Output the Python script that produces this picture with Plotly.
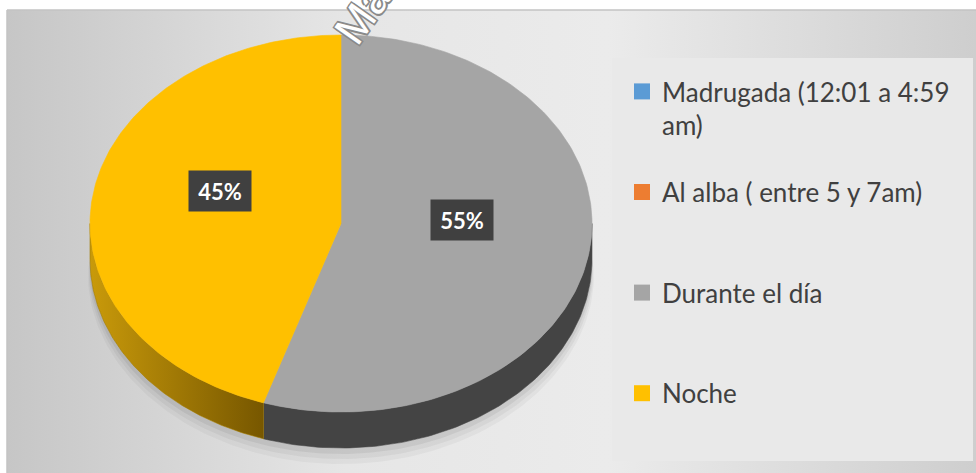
import numpy as np
import plotly.graph_objects as go

# ---------------- data ----------------
categories = ["Madrugada (12:01 a 4:59 am)", "Al alba ( entre 5 y 7am)", "Durante el día", "Noche"]
legend_labels = ["Madrugada (12:01 a 4:59<br>am)", "Al alba ( entre 5 y 7am)<br>\u00a0",
                 "Durante el día<br>\u00a0", "Noche<br>\u00a0"]
values = [0, 0, 55, 45]
top_colors = ["#5B9BD5", "#ED7D31", "#A5A5A5", "#FFC000"]
side_colors = ["#3B6F9E", "#B05A20", "#444444", "#A07800"]

# ---------------- geometry (pixel-like axes) ----------------
W, H = 976, 473
CX, CY, RX, RY, DEPTH = 341.0, 223.5, 251.0, 188.5, 36.0
LABEL_R, LABEL_LIFT = 0.49, 18.0


def pt(theta_deg, dy=0.0, grow=0.0):
    t = np.radians(theta_deg)
    return CX + (RX + grow) * np.sin(t), CY - (RY + grow) * np.cos(t) + dy


fig = go.Figure()

# background panel with gradient
fig.add_trace(go.Scatter(
    x=[7, W + 1, W + 1, 7, 7], y=[10, 10, H + 1, H + 1, 10], mode="lines",
    fill="toself", line=dict(color="#c4c4c4", width=1.5),
    fillgradient=dict(type="horizontal", start=7, stop=W,
                      colorscale=[[0, "#c6c6c6"], [0.35, "#e6e6e6"], [0.62, "#ebebeb"], [1, "#cecece"]]),
    hoverinfo="skip", showlegend=False))

total = float(sum(values))
fracs = [v / total for v in values]
starts = np.concatenate([[0], np.cumsum(fracs)[:-1]]) * 360
ends = np.cumsum(fracs) * 360

# soft shadow under the pie (band below the front edge)
th_s = np.linspace(90, 270, 160)
taper = np.clip(-np.cos(np.radians(th_s)), 0, None) ** 0.7
for g, alpha in [(16, 0.035), (11, 0.045), (6, 0.06)]:
    xo, yo = pt(th_s, DEPTH, g * taper)
    xo = xo + 0.0
    yo = yo + 0.0
    xi, yi = pt(th_s[::-1], DEPTH)
    fig.add_trace(go.Scatter(x=np.concatenate([xo, xi, xo[:1]]), y=np.concatenate([yo, yi, yo[:1]]),
                             mode="lines", fill="toself", fillcolor=f"rgba(0,0,0,{alpha})",
                             line=dict(width=0), hoverinfo="skip", showlegend=False))

# side walls (front half: 90..270 deg clockwise from top)
for i, (a0, a1) in enumerate(zip(starts, ends)):
    if values[i] <= 0:
        continue
    s0, s1 = max(a0, 90.0), min(a1, 270.0)
    if s1 <= s0:
        continue
    th = np.linspace(s0, s1, 120)
    xs_top, ys_top = pt(th)
    xs_bot, ys_bot = pt(th[::-1], DEPTH)
    xs = np.concatenate([xs_top, xs_bot, xs_top[:1]])
    ys = np.concatenate([ys_top, ys_bot, ys_top[:1]])
    kw = {}
    if categories[i] == "Noche":
        kw["fillgradient"] = dict(type="horizontal", start=float(xs.min()), stop=float(xs.max()),
                                  colorscale=[[0, "#c99a0a"], [1, "#775700"]])
    else:
        kw["fillcolor"] = side_colors[i]
    fig.add_trace(go.Scatter(x=xs, y=ys, mode="lines", fill="toself",
                             line=dict(width=0.6, color=side_colors[i]),
                             hoverinfo="skip", showlegend=False, **kw))

# top faces
for i, (a0, a1) in enumerate(zip(starts, ends)):
    if values[i] <= 0:
        continue
    th = np.linspace(a0, a1, 200)
    xa, ya = pt(th)
    xs = np.concatenate([[CX], xa, [CX]])
    ys = np.concatenate([[CY], ya, [CY]])
    fig.add_trace(go.Scatter(x=xs, y=ys, mode="lines", fill="toself",
                             fillcolor=top_colors[i], line=dict(width=0.6, color=top_colors[i]),
                             name=categories[i], hoverinfo="name", showlegend=False))

# legend-only entries
for i, lab in enumerate(legend_labels):
    fig.add_trace(go.Scatter(x=[None], y=[None], mode="markers", name=lab,
                             legendgroup=f"g{i}",
                             marker=dict(symbol="square", size=16, color=top_colors[i])))

# data labels
annotations = []
for i, (a0, a1) in enumerate(zip(starts, ends)):
    if values[i] <= 0:
        continue
    mid = (a0 + a1) / 2
    t = np.radians(mid)
    lx = CX + RX * LABEL_R * np.sin(t)
    ly = CY - RY * LABEL_R * np.cos(t) - LABEL_LIFT
    annotations.append(dict(x=lx, y=ly, xref="x", yref="y", text=f"<b>{round(fracs[i] * 100)}%</b>",
                            showarrow=False, bgcolor="#404040", borderpad=7, width=48, height=26,
                            font=dict(family="Lato", size=22, color="white")))

# watermark
annotations.append(dict(x=362, y=13, xref="x", yref="y", text="Ma", showarrow=False, textangle=-55,
                        font=dict(family="Liberation Sans", size=44, color="white",
                                  shadow="1.5px 1.5px 0 #8a8a8a, -1.5px -1.5px 0 #8a8a8a, 1.5px -1.5px 0 #8a8a8a, -1.5px 1.5px 0 #8a8a8a")))

fig.update_layout(
    width=W, height=H, margin=dict(l=0, r=0, t=0, b=0),
    paper_bgcolor="white", plot_bgcolor="white",
    xaxis=dict(range=[0, W], visible=False, fixedrange=True),
    yaxis=dict(range=[H, 0], visible=False, fixedrange=True),
    showlegend=True,
    legend=dict(x=622 / W, xanchor="left", y=1 - 68 / H, yanchor="top",
                font=dict(family="Lato", size=26, color="#404040"),
                valign="top", tracegroupgap=30, bgcolor="rgba(0,0,0,0)",
                itemclick=False, itemdoubleclick=False),
    shapes=[dict(type="rect", xref="x", yref="y", x0=612, x1=973, y0=58, y1=461,
                 fillcolor="#e9e9e9", line=dict(width=0), layer="above")],
    annotations=annotations,
)

fig.write_html("out.html", config={"displayModeBar": False},
               post_script="document.body.style.margin='0';document.body.style.overflow='hidden';")
